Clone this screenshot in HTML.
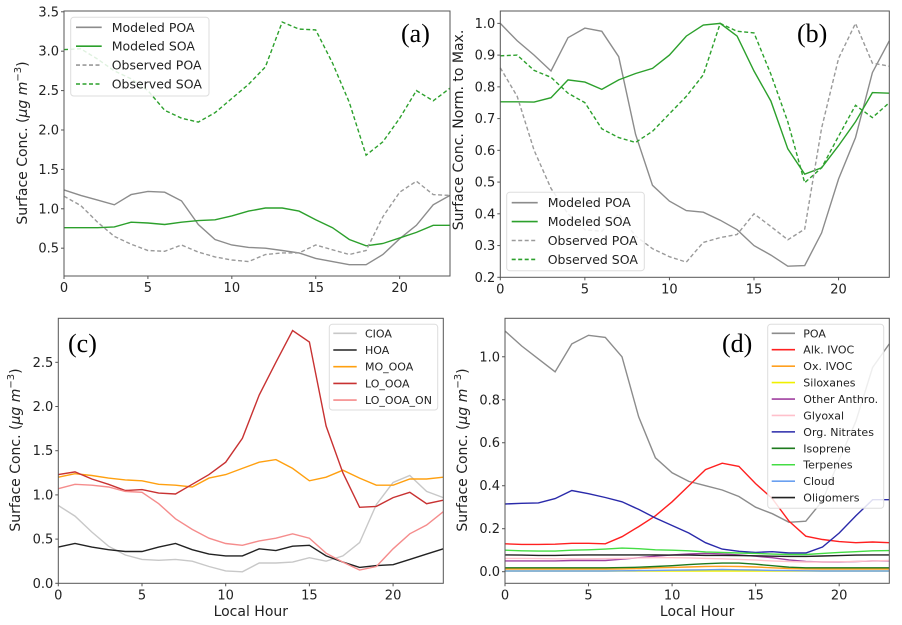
<!DOCTYPE html>
<html><head><meta charset="utf-8">
<style>
html,body{margin:0;padding:0;background:#fff;}
svg{display:block;font-family:"DejaVu Sans","Liberation Sans",sans-serif;}
</style></head>
<body>
<svg id="fig" width="902" height="625" viewBox="0 0 902 625" xmlns="http://www.w3.org/2000/svg"></svg>
<script>
const hours = [0,1,2,3,4,5,6,7,8,9,10,11,12,13,14,15,16,17,18,19,20,21,22,23];
const xTicks = [0,5,10,15,20];
// Panel a
const aModPOA = [1.24,1.17,1.11,1.05,1.18,1.22,1.21,1.10,0.80,0.61,0.54,0.51,0.50,0.47,0.44,0.37,0.33,0.29,0.29,0.42,0.62,0.79,1.05,1.17];
const aModSOA = [0.76,0.76,0.76,0.77,0.83,0.82,0.80,0.83,0.85,0.86,0.91,0.97,1.01,1.01,0.97,0.86,0.76,0.61,0.53,0.56,0.63,0.70,0.79,0.79];
const aObsPOA = [1.16,1.04,0.83,0.65,0.55,0.47,0.46,0.54,0.45,0.39,0.35,0.33,0.42,0.44,0.44,0.54,0.48,0.42,0.47,0.90,1.21,1.35,1.18,1.17];
const aObsSOA = [3.02,3.03,2.90,2.75,2.65,2.50,2.25,2.15,2.10,2.22,2.40,2.58,2.80,3.37,3.28,3.27,2.85,2.35,1.68,1.85,2.15,2.50,2.37,2.53];
const aYTicks = ["0.5","1.0","1.5","2.0","2.5","3.0","3.5"];
// Panel b
const bModPOA = [1.0,0.945,0.90,0.85,0.955,0.985,0.975,0.895,0.65,0.49,0.44,0.41,0.405,0.38,0.35,0.30,0.27,0.235,0.237,0.34,0.51,0.64,0.845,0.945];
const bModSOA = [0.753,0.753,0.752,0.766,0.822,0.815,0.792,0.822,0.842,0.858,0.90,0.96,0.995,1.0,0.96,0.85,0.755,0.605,0.525,0.545,0.615,0.69,0.782,0.78];
const bObsPOA = [0.86,0.77,0.60,0.48,0.40,0.35,0.345,0.40,0.33,0.29,0.265,0.248,0.31,0.325,0.335,0.40,0.36,0.318,0.352,0.67,0.89,1.0,0.875,0.865];
const bObsSOA = [0.898,0.90,0.852,0.83,0.78,0.75,0.668,0.64,0.625,0.66,0.715,0.77,0.838,1.0,0.975,0.97,0.84,0.69,0.498,0.545,0.645,0.742,0.703,0.75];
const bYTicks = ["0.2","0.3","0.4","0.5","0.6","0.7","0.8","0.9","1.0"];
// Panel c
const cCIOA = [0.88,0.76,0.58,0.42,0.32,0.27,0.26,0.27,0.25,0.19,0.14,0.13,0.23,0.23,0.24,0.29,0.25,0.31,0.46,0.89,1.14,1.22,1.04,0.97];
const cHOA = [0.41,0.45,0.41,0.38,0.36,0.36,0.41,0.45,0.38,0.33,0.31,0.31,0.39,0.37,0.42,0.43,0.31,0.24,0.18,0.20,0.21,0.27,0.33,0.39];
const cMOOOA = [1.20,1.24,1.22,1.19,1.17,1.16,1.12,1.11,1.09,1.19,1.23,1.30,1.37,1.40,1.30,1.16,1.20,1.28,1.19,1.11,1.11,1.18,1.18,1.20];
const cLOOOA = [1.23,1.26,1.18,1.12,1.05,1.06,1.02,1.01,1.12,1.23,1.37,1.64,2.13,2.50,2.86,2.73,1.78,1.25,0.86,0.87,0.97,1.03,0.90,0.94];
const cLOOOAON = [1.07,1.12,1.11,1.09,1.04,1.03,0.90,0.73,0.61,0.51,0.45,0.43,0.48,0.51,0.56,0.51,0.34,0.24,0.15,0.19,0.39,0.56,0.66,0.81];
const cYTicks = ["0.0","0.5","1.0","1.5","2.0","2.5"];
// Panel d
const dPOA = [1.12,1.05,0.99,0.93,1.06,1.10,1.09,1.00,0.72,0.53,0.46,0.42,0.40,0.38,0.35,0.30,0.27,0.23,0.235,0.33,0.52,0.70,0.95,1.06];
const dAlkIVOC = [0.13,0.127,0.127,0.128,0.132,0.132,0.13,0.163,0.21,0.26,0.325,0.40,0.475,0.505,0.49,0.41,0.34,0.235,0.165,0.15,0.14,0.135,0.138,0.135];
const dOxIVOC = [0.012,0.012,0.012,0.012,0.012,0.012,0.012,0.013,0.015,0.018,0.02,0.022,0.024,0.025,0.024,0.022,0.018,0.015,0.013,0.012,0.012,0.012,0.012,0.012];
const dSiloxanes = [0.003,0.003,0.003,0.003,0.003,0.003,0.003,0.003,0.003,0.003,0.003,0.003,0.003,0.003,0.003,0.003,0.003,0.003,0.003,0.003,0.003,0.003,0.003,0.003];
const dOtherAnthro = [0.05,0.05,0.05,0.05,0.052,0.052,0.052,0.058,0.065,0.072,0.078,0.083,0.085,0.083,0.078,0.072,0.065,0.055,0.048,0.045,0.045,0.047,0.05,0.05];
const dGlyoxal = [0.062,0.062,0.061,0.06,0.06,0.06,0.061,0.062,0.064,0.065,0.065,0.064,0.062,0.06,0.057,0.054,0.05,0.047,0.045,0.045,0.046,0.048,0.05,0.052];
const dOrgNitrates = [0.315,0.318,0.32,0.34,0.378,0.363,0.345,0.325,0.29,0.25,0.215,0.18,0.135,0.105,0.095,0.09,0.093,0.087,0.087,0.115,0.18,0.26,0.335,0.335];
const dIsoprene = [0.018,0.018,0.018,0.018,0.018,0.018,0.018,0.019,0.021,0.024,0.028,0.033,0.037,0.04,0.04,0.035,0.028,0.021,0.018,0.018,0.018,0.018,0.018,0.018];
const dTerpenes = [0.1,0.097,0.096,0.096,0.1,0.102,0.105,0.11,0.107,0.102,0.1,0.097,0.092,0.09,0.087,0.085,0.082,0.08,0.08,0.085,0.09,0.093,0.097,0.098];
const dCloud = [0.003,0.003,0.003,0.003,0.003,0.003,0.003,0.004,0.005,0.006,0.007,0.008,0.009,0.01,0.009,0.008,0.006,0.005,0.004,0.003,0.003,0.003,0.003,0.003];
const dOligomers = [0.078,0.077,0.076,0.076,0.077,0.078,0.078,0.078,0.078,0.078,0.077,0.077,0.076,0.076,0.075,0.074,0.072,0.071,0.071,0.073,0.075,0.077,0.078,0.078];
const dYTicks = ["0.0","0.2","0.4","0.6","0.8","1.0"];

const NS = "http://www.w3.org/2000/svg";
const svg = document.getElementById('fig');
function mk(tag, attrs, parent){
  const e = document.createElementNS(NS, tag);
  for (const k in attrs) e.setAttribute(k, attrs[k]);
  (parent||svg).appendChild(e);
  return e;
}

function panel(p){
  const g = mk('g', {});
  
  
  const X = v => p.l + (v - 0) / 23 * (p.r - p.l);
  const Y = v => p.b - (v - p.ymin) / (p.ymax - p.ymin) * (p.b - p.t);
  // series
  p.series.forEach(s => {
    const d = hours.map((h,i) => (i ? 'L' : 'M') + X(h).toFixed(1) + ',' + Y(s.v[i]).toFixed(1)).join(' ');
    const path = mk('path', {d: d, fill:'none', stroke:s.c, 'stroke-width':s.w||1.4, 'stroke-dasharray': s.dash ? '4,2.5' : 'none'}, g);
    
    
  });
  // frame
  const fr = mk('rect', {x:p.l, y:p.t, width:p.r-p.l, height:p.b-p.t, fill:'none', stroke:'#555', 'stroke-width':1}, g);
  
  
  // x ticks
  xTicks.forEach(t => {
    const x = X(t);
    mk('line', {x1:x, x2:x, y1:p.b, y2:p.b+3, stroke:'#555'}, g);
    const tx = mk('text', {x:x, y:p.b+16, 'font-size':13, 'text-anchor':'middle', fill:'#222'}, g);
    tx.textContent = t;
    
    
  });
  // y ticks
  p.yt.forEach(lbl => {
    const y = Y(parseFloat(lbl));
    mk('line', {x1:p.l-3, x2:p.l, y1:y, y2:y, stroke:'#555'}, g);
    const tx = mk('text', {x:p.l-5, y:y+4.5, 'font-size':13, 'text-anchor':'end', fill:'#222'}, g);
    tx.textContent = lbl;
    
    
  });
  // y label
  const yl = mk('text', {x:0, y:0, 'font-size':14, 'text-anchor':'middle', fill:'#222', transform:'translate(' + p.ylx + ',' + p.yly + ') rotate(-90)'}, g);
  
  
  if (p.ylabel) { yl.textContent = p.ylabel; }
  else {
    yl.appendChild(document.createTextNode('Surface Conc. ('));
    const t1 = mk('tspan', {'font-style':'italic'}, yl); t1.textContent = 'μg m';
    const t2 = mk('tspan', {'font-size':10, dy:-6}, yl); t2.textContent = '−3';
    const t3 = mk('tspan', {dy:6}, yl); t3.textContent = ')';
  }
  if (p.xlabel) {
    const xl = mk('text', {x:(p.l+p.r)/2, y:616, 'font-size':14, 'text-anchor':'middle', fill:'#222'}, g);
    xl.textContent = 'Local Hour';
    
    
  }
  // legend
  const L = p.leg;
  const lg = mk('g', {}, g);
  
  
  mk('rect', {x:L.x, y:L.y, width:L.w, height:L.h, rx:3, fill:'#fff', 'fill-opacity':0.85, stroke:'#ddd'}, lg);
  p.series.forEach((s,i) => {
    const y = L.y0 + i*L.step;
    const eg = mk('g', {}, lg);
    
    
    mk('line', {x1:L.lx1, x2:L.lx2, y1:y, y2:y, stroke:s.c, 'stroke-width':1.6, 'stroke-dasharray': s.dash ? '4,2.5' : 'none'}, eg);
    const t = mk('text', {x:L.tx, y:y+L.fs*0.36, 'font-size':L.fs, fill:'#222'}, eg);
    t.textContent = s.name;
  });
  // panel letter
  const pl = mk('text', {x:p.lx, y:p.ly, 'font-size':26, 'font-family':'"Liberation Serif",serif', fill:'#000'}, g);
  pl.textContent = '(' + p.id + ')';
  
  
}

panel({id:'a', l:64, r:450, t:11, b:276, ymin:0.147, ymax:3.51, yt:aYTicks, ylx:27, yly:143, xlabel:false,
  lx:401, ly:42,
  leg:{x:70.7,y:17.3,w:138.3,h:78.7,y0:27.3,step:18.9,lx1:76,lx2:101.7,tx:111.7,fs:12.5},
  series:[
    {key:'modeled-poa', name:'Modeled POA', v:aModPOA, c:'#8c8c8c'},
    {key:'modeled-soa', name:'Modeled SOA', v:aModSOA, c:'#2ca02c'},
    {key:'observed-poa', name:'Observed POA', v:aObsPOA, c:'#9a9a9a', dash:true},
    {key:'observed-soa', name:'Observed SOA', v:aObsSOA, c:'#2ca02c', dash:true}
  ]});
panel({id:'b', l:500.3, r:889.3, t:11, b:277.3, ymin:0.2, ymax:1.039, yt:bYTicks, ylx:463, yly:130, ylabel:'Surface Conc. Norm. to Max.', xlabel:false,
  lx:797, ly:42,
  leg:{x:506.7,y:192.3,w:137.6,h:78.4,y0:202.7,step:18.9,lx1:511.7,lx2:537.7,tx:547.7,fs:12.5},
  series:[
    {key:'modeled-poa', name:'Modeled POA', v:bModPOA, c:'#8c8c8c'},
    {key:'modeled-soa', name:'Modeled SOA', v:bModSOA, c:'#2ca02c'},
    {key:'observed-poa', name:'Observed POA', v:bObsPOA, c:'#9a9a9a', dash:true},
    {key:'observed-soa', name:'Observed SOA', v:bObsSOA, c:'#2ca02c', dash:true}
  ]});
panel({id:'c', l:58.3, r:443.3, t:318.3, b:583.3, ymin:0, ymax:2.998, yt:cYTicks, ylx:20, yly:450, xlabel:true,
  lx:68, ly:352,
  leg:{x:329.3,y:324.3,w:108.4,h:85.7,y0:333.3,step:16.7,lx1:333.3,lx2:356.7,tx:365,fs:11},
  series:[
    {key:'cioa', name:'CIOA', v:cCIOA, c:'#c8c8c8'},
    {key:'hoa', name:'HOA', v:cHOA, c:'#222222'},
    {key:'mo-ooa', name:'MO_OOA', v:cMOOOA, c:'#ffa010'},
    {key:'lo-ooa', name:'LO_OOA', v:cLOOOA, c:'#c83232'},
    {key:'lo-ooa-on', name:'LO_OOA_ON', v:cLOOOAON, c:'#f58c8c'}
  ]});
panel({id:'d', l:505, r:889.3, t:318.3, b:583.3, ymin:-0.054, ymax:1.179, yt:dYTicks, ylx:467, yly:450, xlabel:true,
  lx:722, ly:352,
  leg:{x:767.7,y:324.3,w:116,h:184,y0:333.3,step:16.43,lx1:771.7,lx2:795,tx:803.3,fs:11},
  series:[
    {key:'poa', name:'POA', v:dPOA, c:'#8c8c8c'},
    {key:'alk-ivoc', name:'Alk. IVOC', v:dAlkIVOC, c:'#ff2020'},
    {key:'ox-ivoc', name:'Ox. IVOC', v:dOxIVOC, c:'#ffa020'},
    {key:'siloxanes', name:'Siloxanes', v:dSiloxanes, c:'#f0f000'},
    {key:'other-anthro', name:'Other Anthro.', v:dOtherAnthro, c:'#a040a0'},
    {key:'glyoxal', name:'Glyoxal', v:dGlyoxal, c:'#ffc0cb'},
    {key:'org-nitrates', name:'Org. Nitrates', v:dOrgNitrates, c:'#2a2aaa'},
    {key:'isoprene', name:'Isoprene', v:dIsoprene, c:'#1e7a1e'},
    {key:'terpenes', name:'Terpenes', v:dTerpenes, c:'#44dd44'},
    {key:'cloud', name:'Cloud', v:dCloud, c:'#6aa0f0'},
    {key:'oligomers', name:'Oligomers', v:dOligomers, c:'#222222'}
  ]});
</script>
</body></html>
